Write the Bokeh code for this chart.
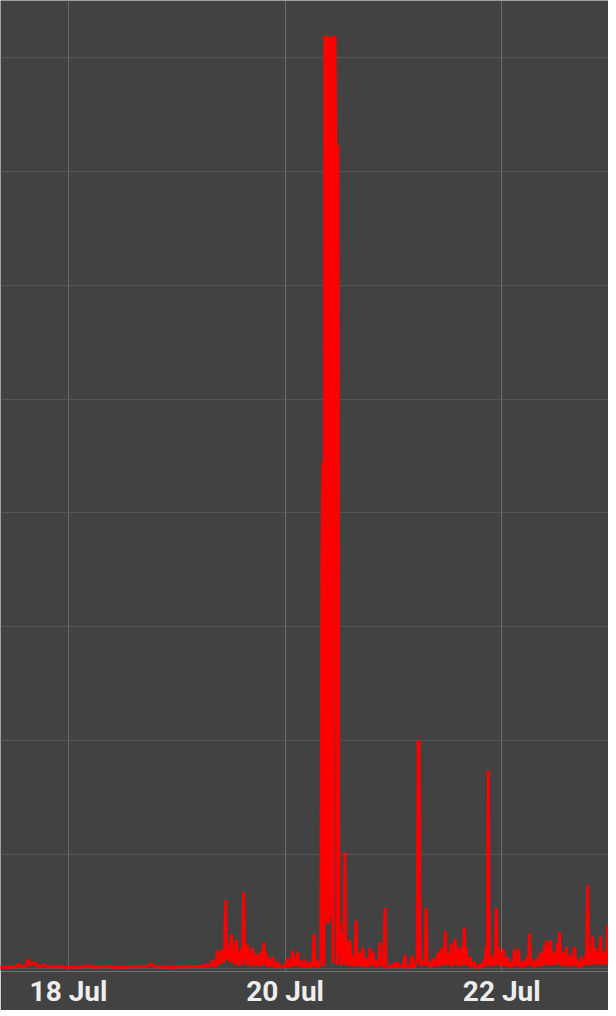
import pandas as pd
from bokeh.plotting import figure
from bokeh.models import ColumnDataSource, Range1d, FixedTicker, SingleIntervalTicker, DatetimeTickFormatter
from bokeh.embed import file_html
from bokeh.resources import INLINE

# ---- quiet period: irregular readings (hours relative to 18 Jul 00:00) ----
quiet_hours = [
    -15.3, -13.5, -12.4, -11.5, -11.1, -10.6, -9.8, -9.3, -8.9, -8.4, -8.0, -7.3, -6.9, -5.8, -5.3, -4.7,
    -2.4, -0.2, 3.1, 4.7, 5.3, 9.1, 9.8, 14.2, 17.5, 18.4, 19.1, 23.0, 27.5, 29.7, 30.8, 31.5,
]
quiet_values = [
    1, 1, 1.5, 2, 4, 1.5, 2, 3, 8, 3, 4, 5, 2, 2.5, 3, 1.5,
    1.5, 1, 1.5, 2.5, 1, 2, 1, 1.5, 2, 4, 1.5, 1, 2, 1.5, 3, 2,
]

# ---- active period: regular samples every 800 s ----
active_start = "2023-07-19 07:55"
active_step_seconds = 800
active_values = [
    7, 2, 5, 1, 9, 16, 3, 12, 4, 14,
    17, 5, 13, 60, 8, 18, 19, 6, 22, 30,
    5, 18, 3, 20, 25, 4, 15, 2, 12, 18,
    4, 67, 6, 16, 3, 21, 5, 14, 2, 12,
    18, 3, 10, 2, 13, 4, 11, 2, 9, 15,
    3, 23, 5, 14, 2, 10, 1, 8, 2, 6,
    10, 1, 5, 1, 4, 6, 1, 3, 1, 2,
    1, 2, 3, 1, 6, 9, 2, 5, 1, 7,
    16, 2, 9, 3, 6, 14, 2, 7, 1, 4,
    1, 6, 8, 1, 4, 2, 2, 6, 1, 3,
    2, 30, 2, 8, 1, 6, 1, 4, 8, 352,
    445, 2, 818, 818, 40, 818, 40, 818, 45, 818,
    5, 818, 818, 723, 3, 723, 12, 40, 3, 12,
    30, 4, 102, 3, 12, 23, 2, 25, 4, 8,
    2, 12, 3, 42, 2, 10, 3, 14, 2, 8,
    18, 2, 6, 9, 1, 5, 2, 18, 3, 8,
    14, 2, 5, 7, 1, 6, 2, 23, 3, 8,
    2, 5, 53, 2, 1, 2, 1, 1, 3, 1,
    4, 1, 2, 6, 1, 5, 1, 2, 1, 3,
    1, 4, 12, 2, 1, 1, 2, 1, 4, 11,
    2, 1, 3, 5, 8, 200, 199, 3, 8, 2,
    6, 3, 8, 53, 3, 6, 2, 5, 1, 4,
    9, 2, 6, 3, 10, 14, 2, 9, 18, 3,
    12, 4, 33, 3, 14, 4, 10, 3, 22, 2,
    10, 4, 26, 3, 14, 18, 3, 12, 2, 20,
    5, 36, 3, 18, 4, 8, 2, 10, 1, 4,
    2, 6, 1, 1, 2, 1, 1, 4, 1, 2,
    1, 8, 2, 20, 3, 174, 3, 12, 2, 6,
    10, 3, 14, 53, 3, 10, 18, 2, 12, 3,
    17, 2, 6, 10, 2, 9, 1, 4, 1, 6,
    2, 17, 3, 8, 2, 17, 2, 4, 1, 6,
    2, 3, 8, 2, 10, 3, 31, 3, 8, 2,
    6, 1, 3, 8, 2, 10, 3, 14, 2, 8,
    3, 20, 4, 24, 3, 18, 4, 25, 3, 10,
    14, 3, 12, 4, 22, 5, 32, 3, 12, 14,
    2, 8, 3, 19, 3, 8, 2, 12, 2, 6,
    3, 19, 3, 8, 2, 6, 1, 5, 10, 2,
    8, 3, 12, 4, 73, 3, 15, 12, 3, 28,
    4, 10, 18, 4, 14, 10, 3, 28, 4, 12,
    14, 3, 8, 4, 38, 5, 49,
]

tick_dates = ["2023-07-18", "2023-07-20", "2023-07-22"]
base_date = "2023-07-18"

base = pd.Timestamp(base_date)
quiet_t = base + pd.to_timedelta(quiet_hours, unit="h")
active_t = pd.date_range(active_start, periods=len(active_values), freq=f"{active_step_seconds}s")
times = list(quiet_t) + list(active_t)
vals = list(quiet_values) + list(active_values)
src = ColumnDataSource(dict(t=times, v=vals))

BG = "#424242"
p = figure(
    x_axis_type="datetime",
    frame_width=608, frame_height=971,
    output_backend="svg", toolbar_location=None,
    y_axis_location=None,
    x_range=Range1d(base - pd.Timedelta(hours=15.07), base + pd.Timedelta(hours=119.66)),
    y_range=Range1d(-2.63, 849.9),
    min_border=0,
)
p.background_fill_color = BG
p.border_fill_color = BG
p.outline_line_color = None

p.line("t", "v", source=src, color="#ff0000", line_width=3)

ticks_ms = [pd.Timestamp(d).value // 10**6 for d in tick_dates]
p.xaxis.ticker = FixedTicker(ticks=ticks_ms)
fmt = "%d %b"
p.xaxis.formatter = DatetimeTickFormatter(days=fmt, months=fmt, hours=fmt, hourmin=fmt, minutes=fmt, years=fmt)
p.xaxis.axis_line_color = None
p.xaxis.major_tick_line_color = None
p.xaxis.minor_tick_line_color = None
p.xaxis.major_tick_out = 0
p.xaxis.major_tick_in = 0
p.xaxis.major_label_standoff = 3
p.xaxis.major_label_text_font = "Roboto"
p.xaxis.major_label_text_font_size = "28px"
p.xaxis.major_label_text_font_style = "bold"
p.xaxis.major_label_text_color = "#eeeeee"

p.xgrid.ticker = FixedTicker(ticks=ticks_ms)
p.xgrid.grid_line_color = "#6a6a6a"
p.xgrid.grid_line_width = 1
p.ygrid.ticker = SingleIntervalTicker(interval=100)
p.ygrid.grid_line_color = "#575757"
p.ygrid.grid_line_width = 1

open("out.html", "w").write(file_html(p, INLINE))
